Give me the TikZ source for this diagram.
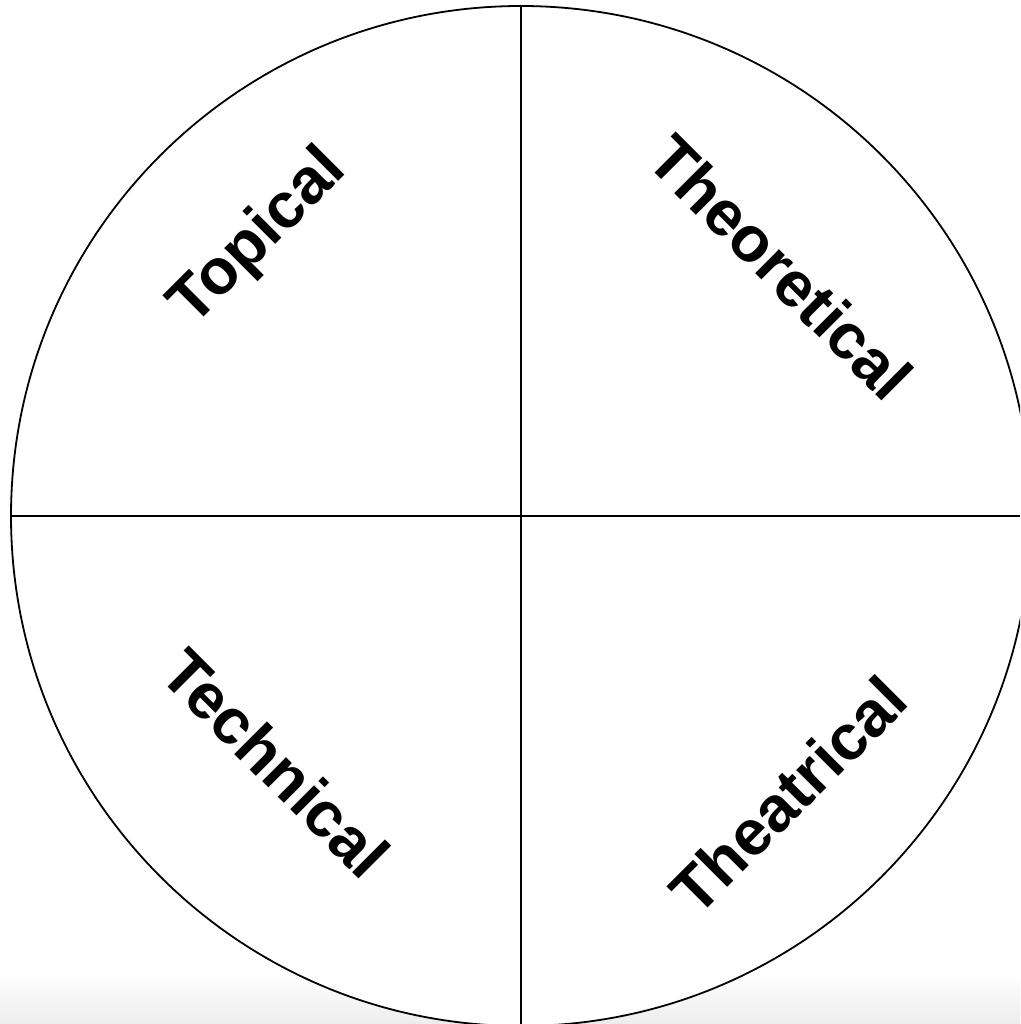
\documentclass[tikz,border=0pt]{standalone}
\usepackage{fontspec}
\setmainfont{Liberation Sans}
\begin{document}
\begin{tikzpicture}[x=1pt,y=-1pt,
  lbl/.style={font=\fontsize{64}{76}\selectfont\bfseries, inner sep=0pt, anchor=center},
  rule/.style={line width=1.8pt, black}]
\useasboundingbox (0,0) rectangle (1020,1024);
\begin{scope}
\clip (0,0) rectangle (1020,1024);
\fill[white] (0,0) rectangle (1020,1024);
\shade[top color=white, bottom color=gray!14] (0,972) rectangle (1020,1024);
\fill[white] (521,516) circle (510);
\draw[rule] (521,516) circle (510);
\coordinate (W) at (11,516);
\coordinate (E) at (1020,516);
\coordinate (N) at (521,6);
\coordinate (S) at (521,1024);
\draw[rule] (W) -- (E);
\draw[rule] (N) -- (S);
\end{scope}
\node[lbl, rotate=45] (topical) at (259,238) {Topical};
\node[lbl, rotate=-45] (theoretical) at (781,267) {Theoretical};
\node[lbl, rotate=-45] (technical) at (276,763) {Technical};
\node[lbl, rotate=45] (theatrical) at (788,795) {Theatrical};
\end{tikzpicture}
\end{document}
